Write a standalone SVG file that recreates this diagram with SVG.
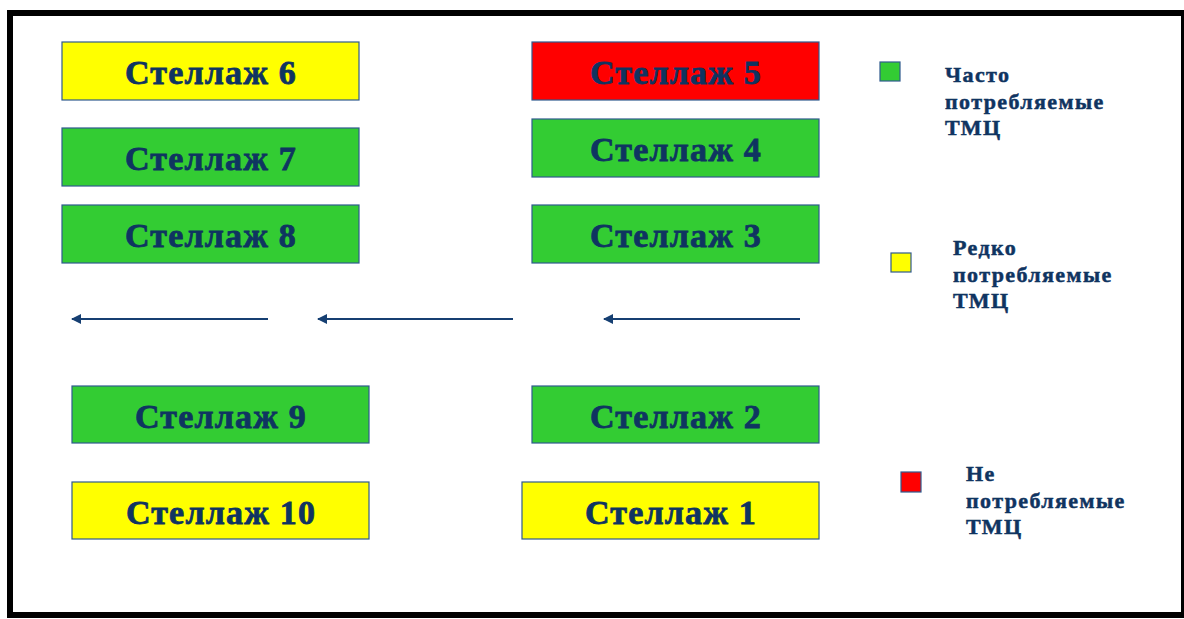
<svg xmlns="http://www.w3.org/2000/svg" width="1184" height="619" viewBox="0 0 1184 619">
<defs>
<style>
.box{stroke:#2f5a8e;stroke-width:1.2}
.g{fill:#33cc33}.y{fill:#ffff00}.r{fill:#ff0000}
.lbl{font-family:"Liberation Serif","Times New Roman",serif;font-weight:bold;font-size:34px;letter-spacing:1.2px;fill:#0f3461;stroke:#0f3461;stroke-width:0.8;text-anchor:middle}
.leg{font-family:"Liberation Serif","Times New Roman",serif;font-weight:bold;font-size:22px;letter-spacing:1.4px;fill:#0f3461;stroke:#0f3461;stroke-width:0.5}
.conn{stroke:#163f72;stroke-width:2;fill:none}
</style>
<marker id="ah" viewBox="0 0 10 10" refX="9" refY="5" markerWidth="5" markerHeight="5" orient="auto" markerUnits="strokeWidth">
<path d="M0,0 L10,5 L0,10 Z" fill="#163f72"/>
</marker>
</defs>
<rect x="0" y="0" width="1184" height="619" fill="#ffffff"/>
<rect x="10" y="13" width="1174" height="602" fill="none" stroke="#000000" stroke-width="6"/>

<g id="s6"><rect class="box y" x="62" y="42" width="297" height="58"/><text class="lbl" x="211" y="84">Стеллаж 6</text></g>
<g id="s7"><rect class="box g" x="62" y="128" width="297" height="58"/><text class="lbl" x="211" y="170">Стеллаж 7</text></g>
<g id="s8"><rect class="box g" x="62" y="205" width="297" height="58"/><text class="lbl" x="211" y="247">Стеллаж 8</text></g>
<g id="s9"><rect class="box g" x="72" y="386" width="297" height="57"/><text class="lbl" x="221" y="428">Стеллаж 9</text></g>
<g id="s10"><rect class="box y" x="72" y="482" width="297" height="57"/><text class="lbl" x="221" y="524">Стеллаж 10</text></g>
<g id="s5"><rect class="box r" x="532" y="42" width="287" height="58"/><text class="lbl" x="676" y="84">Стеллаж 5</text></g>
<g id="s4"><rect class="box g" x="532" y="119" width="287" height="58"/><text class="lbl" x="676" y="161">Стеллаж 4</text></g>
<g id="s3"><rect class="box g" x="532" y="205" width="287" height="58"/><text class="lbl" x="676" y="247">Стеллаж 3</text></g>
<g id="s2"><rect class="box g" x="532" y="386" width="287" height="57"/><text class="lbl" x="676" y="428">Стеллаж 2</text></g>
<g id="s1"><rect class="box y" x="522" y="482" width="297" height="57"/><text class="lbl" x="671" y="524">Стеллаж 1</text></g>

<g id="connectors">
<line class="conn" x1="268" y1="319" x2="72" y2="319" marker-end="url(#ah)"/>
<line class="conn" x1="513" y1="319" x2="318" y2="319" marker-end="url(#ah)"/>
<line class="conn" x1="800" y1="319" x2="604" y2="319" marker-end="url(#ah)"/>
</g>

<g id="legend-often"><rect class="box g" x="880" y="62" width="20" height="19"/>
<text class="leg" x="945" y="82">Часто</text><text class="leg" x="945" y="109">потребляемые</text><text class="leg" x="945" y="135">ТМЦ</text></g>
<g id="legend-rare"><rect class="box y" x="891" y="253" width="20" height="19"/>
<text class="leg" x="953" y="255">Редко</text><text class="leg" x="953" y="282">потребляемые</text><text class="leg" x="953" y="308">ТМЦ</text></g>
<g id="legend-none"><rect class="box r" x="901" y="472" width="20" height="20"/>
<text class="leg" x="966" y="481">Не</text><text class="leg" x="966" y="508">потребляемые</text><text class="leg" x="966" y="534">ТМЦ</text></g>
</svg>
